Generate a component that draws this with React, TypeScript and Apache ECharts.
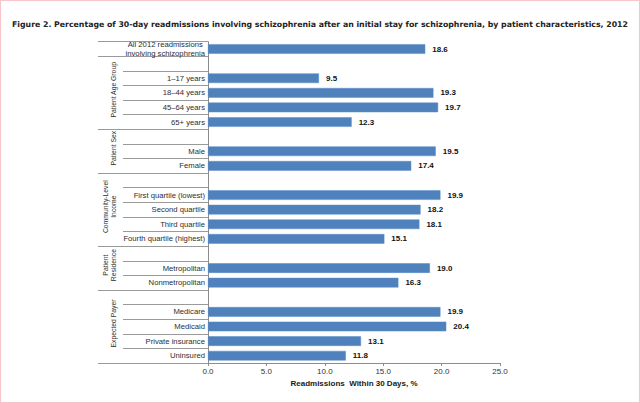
import React, { useEffect, useRef } from "react";
import * as echarts from "echarts";

const categories = [
  "All 2012 readmissions\ninvolving schizophrenia",
  "",
  "1–17 years",
  "18–44 years",
  "45–64 years",
  "65+ years",
  "",
  "Male",
  "Female",
  "",
  "First quartile (lowest)",
  "Second quartile",
  "Third quartile",
  "Fourth quartile (highest)",
  "",
  "Metropolitan",
  "Nonmetropolitan",
  "",
  "Medicare",
  "Medicaid",
  "Private insurance",
  "Uninsured",
];

const values: (number | null)[] = [
  18.6, null, 9.5, 19.3, 19.7, 12.3, null, 19.5, 17.4, null, 19.9, 18.2, 18.1,
  15.1, null, 19.0, 16.3, null, 19.9, 20.4, 13.1, 11.8,
];

const groupNames = [
  "Patient Age Group",
  "Patient Sex",
  "Community-Level\nIncome",
  "Patient\nResidence",
  "Expected Payer",
];
const groupStarts = [1, 6, 9, 14, 17];
const groupEnds = [5, 8, 13, 16, 21];

const xTicks = [0, 5, 10, 15, 20, 25];

const TITLE =
  "Figure 2. Percentage of 30-day readmissions involving schizophrenia after an initial stay for schizophrenia, by patient characteristics, 2012";

export default function App() {
  const ref = useRef<HTMLDivElement>(null);
  useEffect(() => {
    document.body.style.margin = "0";
    const chart = echarts.init(ref.current!, null, { renderer: "svg" });
    const groupBoundary = new Set<number>([0, ...groupStarts]);
    const font = "Liberation Sans";
    const labelSize = 7.7;
    chart.setOption({
      animation: false,
      backgroundColor: "#ffffff",
      title: {
        text: TITLE,
        left: "center",
        top: 15,
        textStyle: {
          fontSize: 7.8,
          fontWeight: "bold",
          fontFamily: "DejaVu Sans",
          color: "#222",
        },
      },
      grid: { left: 208, right: 140, top: 41.7, bottom: 40, containLabel: false },
      xAxis: {
        type: "value",
        min: xTicks[0],
        max: xTicks[xTicks.length - 1],
        interval: 5,
        name: "Readmissions  Within 30 Days, %",
        nameLocation: "middle",
        nameGap: 15,
        nameTextStyle: {
          fontSize: 8,
          fontWeight: "bold",
          fontFamily: font,
          color: "#1a1a1a",
        },
        axisLine: { show: true, lineStyle: { color: "#8c8c8c", width: 1 } },
        axisTick: { show: true, length: 3, lineStyle: { color: "#8c8c8c" } },
        splitLine: { show: false },
        axisLabel: {
          formatter: (v: number) => v.toFixed(1),
          fontSize: 8,
          fontFamily: font,
          color: "#333",
          margin: 4,
        },
      },
      yAxis: [
        {
          type: "category",
          data: categories,
          inverse: true,
          position: "left",
          axisLine: { show: true, lineStyle: { color: "#8c8c8c", width: 1 } },
          axisTick: {
            show: true,
            length: 85,
            interval: (i: number) => !groupBoundary.has(i),
            lineStyle: { color: "#9a9a9a" },
          },
          axisLabel: {
            fontSize: labelSize,
            fontFamily: font,
            color: "#2e2e2e",
            margin: 3,
            lineHeight: 9,
            interval: 0,
            formatter: (v: string) => (v.indexOf("\n") >= 0 ? `{c|${v}}` : v),
            rich: {
              c: {
                align: "center",
                fontSize: labelSize,
                fontFamily: font,
                color: "#2e2e2e",
                lineHeight: 9,
              },
            },
          },
        },
        {
          type: "category",
          data: categories,
          inverse: true,
          position: "left",
          axisLine: { show: false },
          axisTick: {
            show: true,
            length: 110,
            interval: (i: number) => groupBoundary.has(i),
            lineStyle: { color: "#9a9a9a" },
          },
          axisLabel: { show: false },
        },
      ],
      series: [
        {
          type: "bar",
          data: values,
          barCategoryGap: "34%",
          itemStyle: { color: "#4F81BD", borderColor: "#5a8cc8", borderWidth: 0.5 },
          label: {
            show: true,
            position: "right",
            distance: 7,
            formatter: (p: any) => (p.value == null ? "" : Number(p.value).toFixed(1)),
            fontSize: 8,
            fontWeight: "bold",
            fontFamily: font,
            color: "#111",
          },
        },
      ],
    });

    const graphics = groupNames.map((name, k) => {
      const y0 = chart.convertToPixel({ yAxisIndex: 0 }, groupStarts[k]) as number;
      const y1 = chart.convertToPixel({ yAxisIndex: 0 }, groupEnds[k]) as number;
      return {
        type: "text",
        x: 117,
        y: (y0 + y1) / 2 - 3,
        rotation: Math.PI / 2,
        style: {
          text: name,
          textAlign: "center",
          textVerticalAlign: "bottom",
          fontSize: 6.8,
          lineHeight: 8,
          fontFamily: font,
          fill: "#2e2e2e",
        },
      };
    });
    chart.setOption({ graphic: graphics });
    return () => chart.dispose();
  }, []);
  return (
    <div style={{ position: "relative", width: 640, height: 403 }}>
      <div ref={ref} style={{ position: "absolute", left: 0, top: 0, width: 640, height: 403 }} />
      <div
        style={{
          position: "absolute",
          left: 0,
          top: 0,
          width: 640,
          height: 403,
          boxSizing: "border-box",
          border: "1px solid #f6c4ca",
          pointerEvents: "none",
        }}
      />
    </div>
  );
}
